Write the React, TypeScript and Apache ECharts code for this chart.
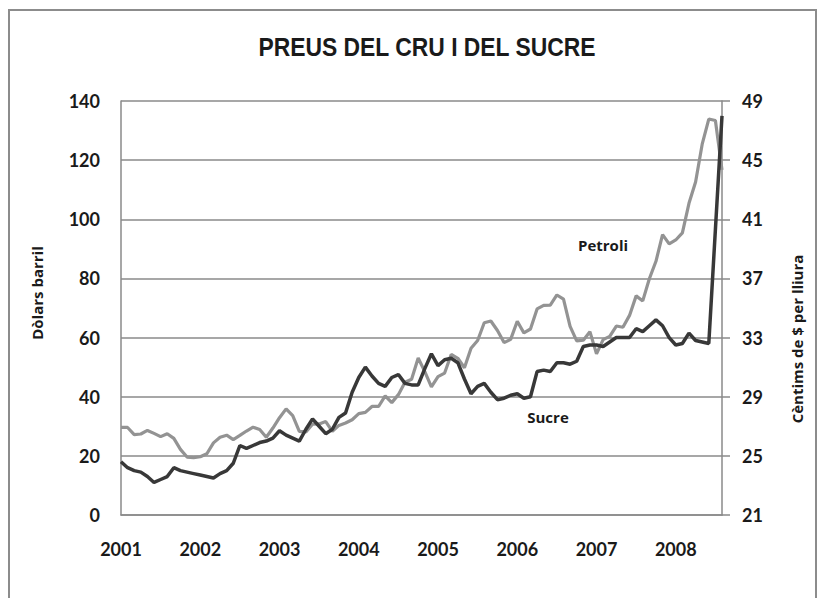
import React, { useEffect, useRef } from "react";
import * as echarts from "echarts";

const years = ["2001", "2002", "2003", "2004", "2005", "2006", "2007", "2008"];
const monthsIn2008 = 8;

// Crude oil (left axis, $ per barrel), monthly Jan 2001 - Aug 2008
const petroli = [
  29.6, 29.6, 27.2, 27.4, 28.6, 27.6, 26.5, 27.5, 25.9, 22.2, 19.6, 19.4,
  19.7, 20.7, 24.4, 26.3, 27.0, 25.5, 26.9, 28.4, 29.7, 28.9, 26.3, 29.4,
  32.9, 35.9, 33.6, 28.3, 28.1, 30.7, 30.8, 31.6, 28.3, 30.3, 31.1, 32.2,
  34.3, 34.7, 36.7, 36.7, 40.3, 38.0, 40.7, 44.9, 45.9, 53.1, 48.5, 43.3,
  46.8, 48.0, 54.3, 53.0, 49.8, 56.4, 59.0, 65.0, 65.6, 62.4, 58.3, 59.4,
  65.5, 61.6, 62.9, 69.7, 70.9, 71.0, 74.4, 73.0, 63.8, 58.9, 59.1, 62.0,
  54.5, 59.3, 60.4, 63.9, 63.5, 67.5, 74.1, 72.4, 79.9, 85.8, 94.8, 91.7,
  93.0, 95.4, 105.4, 112.6, 125.4, 133.9, 133.4, 116.7,
];

// Sugar (right axis, cents of $ per pound), monthly Jan 2001 - Aug 2008
const sucre = [
  24.6, 24.2, 24.0, 23.9, 23.6, 23.2, 23.4, 23.6, 24.2, 24.0, 23.9, 23.8,
  23.7, 23.6, 23.5, 23.8, 24.0, 24.5, 25.7, 25.5, 25.7, 25.9, 26.0, 26.2,
  26.7, 26.4, 26.2, 26.0, 26.8, 27.5, 27.0, 26.5, 26.8, 27.6, 27.9, 29.3,
  30.3, 31.0, 30.4, 29.9, 29.7, 30.3, 30.5, 29.9, 29.8, 29.8, 30.9, 31.9,
  31.1, 31.5, 31.6, 31.3, 30.2, 29.2, 29.7, 29.9, 29.3, 28.8, 28.9, 29.1,
  29.2, 28.9, 29.0, 30.7, 30.8, 30.7, 31.3, 31.3, 31.2, 31.4, 32.4, 32.5,
  32.5, 32.4, 32.7, 33.0, 33.0, 33.0, 33.6, 33.4, 33.8, 34.2, 33.8, 33.0,
  32.5, 32.6, 33.3, 32.8, 32.7, 32.6, 40.3, 48.0,
];

const leftTicks = [0, 20, 40, 60, 80, 100, 120, 140];
const rightTicks = [21, 25, 29, 33, 37, 41, 45, 49];

const months: string[] = [];
years.forEach((y, yi) => {
  const n = yi === years.length - 1 ? monthsIn2008 : 12;
  for (let m = 1; m <= n; m++) months.push(`${y}-${String(m).padStart(2, "0")}`);
});

const tickFont = "Lato, 'Open Sans', sans-serif";
const nameFont = "'Open Sans', 'Noto Sans', sans-serif";
const gray = "#8a8a8a";

export default function App() {
  const ref = useRef<HTMLDivElement>(null);
  useEffect(() => {
    if (!ref.current) return;
    const chart = echarts.init(ref.current, undefined, { renderer: "svg" });
    chart.setOption({
      animation: false,
      backgroundColor: "#ffffff",
      grid: { left: 121, right: 105, top: 101, bottom: 83, containLabel: false },
      xAxis: {
        type: "category",
        data: months,
        boundaryGap: false,
        axisLine: { show: true, lineStyle: { color: gray, width: 1.5 } },
        axisTick: { show: false },
        axisLabel: {
          interval: (i: number) => i % 12 === 0,
          formatter: (v: string) => v.slice(0, 4),
          margin: 25,
          color: "#1a1a1a",
          fontFamily: tickFont,
          fontWeight: "bold",
          fontSize: 18,
        },
        splitLine: { show: false },
      },
      yAxis: [
        {
          type: "value",
          min: leftTicks[0],
          max: leftTicks[leftTicks.length - 1],
          interval: 20,
          axisLine: { show: true, lineStyle: { color: gray, width: 1.5 } },
          axisTick: { show: false },
          axisLabel: {
            margin: 21,
            color: "#1a1a1a",
            fontFamily: tickFont,
            fontWeight: "bold",
            fontSize: 18,
          },
          splitLine: { show: true, lineStyle: { color: gray, width: 1.5 } },
        },
        {
          type: "value",
          position: "right",
          min: rightTicks[0],
          max: rightTicks[rightTicks.length - 1],
          axisLine: { show: true, lineStyle: { color: gray, width: 1.5 } },
          axisTick: {
            show: true,
            length: 8,
            customValues: rightTicks,
            lineStyle: { color: gray, width: 1.5 },
          },
          axisLabel: {
            customValues: rightTicks,
            margin: 20,
            color: "#1a1a1a",
            fontFamily: tickFont,
            fontWeight: "bold",
            fontSize: 18,
          },
          splitLine: { show: false },
        },
      ],
      series: [
        {
          name: "Petroli",
          type: "line",
          data: petroli,
          yAxisIndex: 0,
          showSymbol: false,
          lineStyle: { color: "#939393", width: 3.2 },
          z: 2,
        },
        {
          name: "Sucre",
          type: "line",
          data: sucre,
          yAxisIndex: 1,
          showSymbol: false,
          lineStyle: { color: "#383838", width: 3.5 },
          z: 3,
        },
      ],
      graphic: [
        {
          type: "rect",
          shape: { x: 9, y: 10, width: 807, height: 610 },
          style: { fill: "none", stroke: "#8c8c8c", lineWidth: 2 },
          silent: true,
        },
        {
          type: "text",
          x: 427,
          y: 47,
          scaleX: 0.88,
          style: {
            text: "PREUS DEL CRU I DEL SUCRE",
            fontFamily: "'Liberation Sans Narrow', 'Arial Narrow', 'Liberation Sans', sans-serif",
            fontWeight: "bold",
            fontSize: 26,
            fill: "#1a1a1a",
            textAlign: "center",
            textVerticalAlign: "middle",
          },
        },
        {
          type: "text",
          x: 37,
          y: 293,
          rotation: Math.PI / 2,
          style: {
            text: "Dòlars barril",
            fontFamily: nameFont,
            fontWeight: "bold",
            fontSize: 15,
            fill: "#1a1a1a",
            textAlign: "center",
            textVerticalAlign: "middle",
          },
        },
        {
          type: "text",
          x: 797,
          y: 339,
          rotation: Math.PI / 2,
          style: {
            text: "Cèntims de $ per lliura",
            fontFamily: nameFont,
            fontWeight: "bold",
            fontSize: 15,
            fill: "#1a1a1a",
            textAlign: "center",
            textVerticalAlign: "middle",
          },
        },
        {
          type: "text",
          x: 603,
          y: 245,
          style: {
            text: "Petroli",
            fontFamily: nameFont,
            fontWeight: "bold",
            fontSize: 15,
            fill: "#1a1a1a",
            textAlign: "center",
            textVerticalAlign: "middle",
          },
        },
        {
          type: "text",
          x: 548,
          y: 417,
          style: {
            text: "Sucre",
            fontFamily: nameFont,
            fontWeight: "bold",
            fontSize: 15,
            fill: "#1a1a1a",
            textAlign: "center",
            textVerticalAlign: "middle",
          },
        },
      ],
    });
    return () => chart.dispose();
  }, []);
  return (
    <div
      ref={ref}
      style={{ position: "absolute", left: 0, top: 0, width: 827, height: 598, background: "#fff" }}
    />
  );
}
